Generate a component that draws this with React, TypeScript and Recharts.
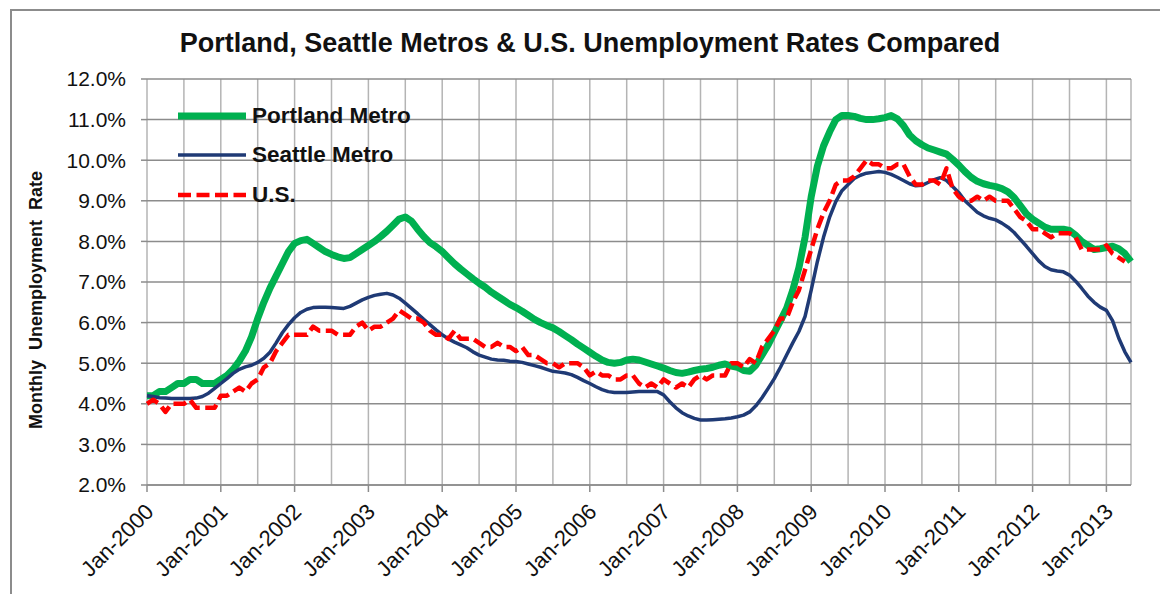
import React from "react";
import { LineChart, Line, XAxis, YAxis, CartesianGrid, Legend } from "recharts";

const FONT = '"Liberation Sans", Arial, sans-serif';

const YEARS = [2000, 2001, 2002, 2003, 2004, 2005, 2006, 2007, 2008, 2009, 2010, 2011, 2012, 2013];
const MONTHS = ["Jan", "Feb", "Mar", "Apr", "May", "Jun", "Jul", "Aug", "Sep", "Oct", "Nov", "Dec"];

// monthly rates, Jan-2000 .. Apr-2013
const PORTLAND = [
  4.2, 4.2, 4.3, 4.3, 4.4, 4.5, 4.5, 4.6, 4.6, 4.5, 4.5, 4.5,
  4.6, 4.7, 4.85, 5.05, 5.3, 5.65, 6.1, 6.5, 6.85, 7.15, 7.45, 7.75,
  7.95, 8.02, 8.05, 7.95, 7.85, 7.75, 7.68, 7.62, 7.58, 7.6, 7.7, 7.8,
  7.9, 8.0, 8.12, 8.25, 8.4, 8.55, 8.6, 8.5, 8.3, 8.12, 7.97, 7.87,
  7.75, 7.6, 7.45, 7.32, 7.2, 7.08, 6.97, 6.87, 6.75, 6.65, 6.55, 6.45,
  6.37, 6.28, 6.18, 6.08, 6.0, 5.93, 5.87, 5.78, 5.68, 5.58, 5.47, 5.37,
  5.27, 5.17, 5.08, 5.02, 5.0, 5.02, 5.08, 5.1, 5.08, 5.03, 4.98, 4.93,
  4.88, 4.82, 4.77, 4.75, 4.78, 4.82, 4.85, 4.87, 4.9, 4.95, 4.98, 4.93,
  4.9, 4.82, 4.8, 4.95, 5.2, 5.45, 5.75, 6.05, 6.35, 6.8, 7.35, 8.1,
  9.1, 9.85, 10.35, 10.7, 11.0, 11.1, 11.1, 11.08, 11.03, 11.0, 11.0, 11.02,
  11.05, 11.1, 11.02, 10.85, 10.62, 10.48, 10.38, 10.3, 10.25, 10.2, 10.15, 10.02,
  9.88, 9.72, 9.58, 9.48, 9.42, 9.38, 9.35, 9.3, 9.22, 9.08, 8.88, 8.68,
  8.55, 8.45, 8.35, 8.3, 8.3, 8.3, 8.27, 8.15, 8.0, 7.9, 7.8, 7.82,
  7.85, 7.88, 7.82, 7.7, 7.5,
];

const SEATTLE = [
  4.2, 4.18, 4.15, 4.14, 4.13, 4.13, 4.13, 4.13, 4.14, 4.18, 4.26, 4.38,
  4.5, 4.62, 4.75, 4.85, 4.91, 4.95, 5.02, 5.12, 5.27, 5.5, 5.75, 5.95,
  6.12, 6.25, 6.33, 6.37, 6.38, 6.38, 6.37, 6.36, 6.35, 6.4, 6.48, 6.56,
  6.62, 6.67, 6.7, 6.72, 6.68, 6.6, 6.48, 6.35, 6.22, 6.08, 5.95, 5.82,
  5.7, 5.6, 5.52, 5.45, 5.38, 5.28, 5.2, 5.15, 5.1, 5.08, 5.07, 5.05,
  5.04, 5.02, 4.98, 4.94, 4.9, 4.85, 4.8, 4.78, 4.76, 4.72, 4.65, 4.57,
  4.5, 4.42, 4.35, 4.3, 4.28, 4.28, 4.28, 4.29, 4.3, 4.3, 4.3, 4.3,
  4.22, 4.05, 3.9, 3.78, 3.7, 3.64, 3.6, 3.6, 3.61, 3.62, 3.63, 3.65,
  3.68, 3.72, 3.8, 3.95, 4.15, 4.38, 4.62, 4.9, 5.2, 5.5, 5.78, 6.15,
  6.8, 7.5, 8.1, 8.6, 8.98, 9.25, 9.4, 9.55, 9.63, 9.68, 9.7, 9.72,
  9.7, 9.65, 9.58, 9.5, 9.42, 9.37, 9.38, 9.45, 9.52, 9.57, 9.5, 9.35,
  9.2, 9.0, 8.86, 8.72, 8.63, 8.57, 8.53, 8.45, 8.35, 8.22, 8.05, 7.88,
  7.7, 7.52, 7.38, 7.3, 7.27, 7.25, 7.17, 7.02, 6.84, 6.65, 6.5, 6.38,
  6.3, 6.05, 5.62, 5.28, 5.02,
];

const US = [
  4.0, 4.1, 4.0, 3.8, 4.0, 4.0, 4.0, 4.1, 3.9, 3.9, 3.9, 3.9,
  4.2, 4.2, 4.3, 4.4, 4.3, 4.5, 4.6, 4.9, 5.0, 5.3, 5.5, 5.7,
  5.7, 5.7, 5.7, 5.9, 5.8, 5.8, 5.8, 5.7, 5.7, 5.7, 5.9, 6.0,
  5.8, 5.9, 5.9, 6.0, 6.1, 6.3, 6.2, 6.1, 6.1, 6.0, 5.8, 5.7,
  5.7, 5.6, 5.8, 5.6, 5.6, 5.6, 5.5, 5.4, 5.4, 5.5, 5.4, 5.4,
  5.3, 5.4, 5.2, 5.2, 5.1, 5.0, 5.0, 4.9, 5.0, 5.0, 5.0, 4.9,
  4.7, 4.8, 4.7, 4.7, 4.6, 4.6, 4.7, 4.7, 4.5, 4.4, 4.5, 4.4,
  4.6, 4.5, 4.4, 4.5, 4.4, 4.6, 4.7, 4.6, 4.7, 4.7, 4.7, 5.0,
  5.0, 4.9, 5.1, 5.0, 5.4, 5.6, 5.8, 6.1, 6.1, 6.5, 6.8, 7.3,
  7.8, 8.3, 8.7, 9.0, 9.4, 9.5, 9.5, 9.6, 9.8, 10.0, 9.9, 9.9,
  9.8, 9.8, 9.9, 9.9, 9.6, 9.4, 9.4, 9.5, 9.5, 9.4, 9.8, 9.3,
  9.1, 9.0, 9.0, 9.1, 9.0, 9.1, 9.0, 9.0, 9.0, 8.8, 8.6, 8.5,
  8.3, 8.3, 8.2, 8.1, 8.2, 8.2, 8.2, 8.1, 7.8, 7.8, 7.8, 7.8,
  7.9, 7.7, 7.6, 7.5,
];

const CATEGORIES = YEARS.flatMap((y) => MONTHS.map((m) => `${m}-${y}`)).slice(0, PORTLAND.length);
const X_TICKS = CATEGORIES.filter((_, i) => i % 6 === 0);
const Y_TICKS = [2, 3, 4, 5, 6, 7, 8, 9, 10, 11, 12];

const data = CATEGORIES.map((month, i) => ({
  month,
  portland: PORTLAND[i],
  seattle: SEATTLE[i],
  us: US[i],
}));

const STYLE: Record<string, { color: string; width: number; dash?: string }> = {
  portland: { color: "#00b050", width: 7 },
  seattle: { color: "#1f3a75", width: 3.5 },
  us: { color: "#ff0000", width: 4.5, dash: "13 5.5" },
};

const XTick = (props: any) => {
  const { x, y, payload } = props;
  if (!String(payload.value).startsWith("Jan")) return <g />;
  const ax = x + 8;
  const ay = y + 28;
  return (
    <g>
      <line x1={x} y1={y} x2={x} y2={y + 7} stroke="#8c8c8c" strokeWidth={1.5} />
      <text
        x={ax}
        y={ay}
        textAnchor="end"
        transform={`rotate(-45, ${ax}, ${ay})`}
        fontFamily={FONT}
        fontSize={22}
        fill="#111"
      >
        {payload.value}
      </text>
    </g>
  );
};

const renderLegend = (props: any) => (
  <div style={{ fontFamily: FONT, fontWeight: 700, fontSize: 22.5, color: "#111" }}>
    {props.payload.map((entry: any) => {
      const s = STYLE[entry.dataKey];
      return (
        <div key={entry.dataKey} style={{ display: "flex", alignItems: "center", height: 39.5 }}>
          <svg width={68} height={12}>
            <line x1={0} y1={6} x2={68} y2={6} stroke={s.color} strokeWidth={s.width} strokeDasharray={s.dash} />
          </svg>
          <span style={{ marginLeft: 6 }}>{entry.value}</span>
        </div>
      );
    })}
  </div>
);

const renderYLabel = ({ viewBox }: any) => {
  const cx = viewBox.x + 36;
  const cy = viewBox.y + viewBox.height / 2 + 18;
  return (
    <text
      x={cx}
      y={cy}
      transform={`rotate(-90, ${cx}, ${cy})`}
      textAnchor="middle"
      dominantBaseline="central"
      fontFamily={FONT}
      fontWeight={700}
      fontSize={18}
      wordSpacing={5}
      fill="#111"
    >
      Monthly Unemployment Rate
    </text>
  );
};

export default function App() {
  return (
    <div style={{ position: "absolute", left: 0, top: 0, width: 1160, height: 594, background: "#fff", overflow: "hidden" }}>
      <div
        style={{
          position: "absolute",
          left: 10,
          top: 9,
          width: 1170,
          height: 600,
          borderTop: "2px solid #8c8c8c",
          borderLeft: "2px solid #8c8c8c",
        }}
      />
      <div
        style={{
          position: "absolute",
          left: 0,
          top: 30,
          width: 1180,
          textAlign: "center",
          fontFamily: FONT,
          fontWeight: 700,
          fontSize: 27,
          lineHeight: "27px",
          color: "#111",
        }}
      >
        Portland, Seattle Metros &amp; U.S. Unemployment Rates Compared
      </div>
      <div style={{ position: "absolute", left: 0, top: 0 }}>
        <LineChart width={1160} height={594} data={data} margin={{ top: 79, right: 29, bottom: 9, left: 0 }}>
          <CartesianGrid horizontal={false} stroke="#b4b4b4" strokeWidth={1.5} />
          <CartesianGrid vertical={false} stroke="#8c8c8c" strokeWidth={1.5} />
          <XAxis
            dataKey="month"
            ticks={X_TICKS}
            interval={0}
            height={100}
            tickSize={0}
            tickMargin={0}
            tickLine={false}
            axisLine={{ stroke: "#8c8c8c", strokeWidth: 1.5 }}
            tick={<XTick />}
          />
          <YAxis
            width={147}
            domain={[2, 12]}
            ticks={Y_TICKS}
            interval={0}
            tickFormatter={(v: number) => `${v.toFixed(1)}%`}
            tick={{ fontSize: 21, fill: "#111", fontFamily: FONT }}
            tickSize={6}
            tickMargin={15}
            tickLine={{ stroke: "#8c8c8c", strokeWidth: 1.5 }}
            axisLine={false}
            label={{ content: renderYLabel }}
          />
          <Legend
            layout="vertical"
            align="center"
            verticalAlign="middle"
            wrapperStyle={{ left: 178, top: 96, width: 260 }}
            content={renderLegend}
          />
          <Line
            type="linear"
            dataKey="portland"
            name="Portland Metro"
            stroke={STYLE.portland.color}
            strokeWidth={STYLE.portland.width}
            dot={false}
            strokeLinejoin="round"
            isAnimationActive={false}
          />
          <Line
            type="linear"
            dataKey="seattle"
            name="Seattle Metro"
            stroke={STYLE.seattle.color}
            strokeWidth={STYLE.seattle.width}
            dot={false}
            strokeLinejoin="round"
            isAnimationActive={false}
          />
          <Line
            type="linear"
            dataKey="us"
            name="U.S."
            stroke={STYLE.us.color}
            strokeWidth={STYLE.us.width}
            strokeDasharray={STYLE.us.dash}
            dot={false}
            strokeLinejoin="round"
            isAnimationActive={false}
          />
        </LineChart>
      </div>
    </div>
  );
}
